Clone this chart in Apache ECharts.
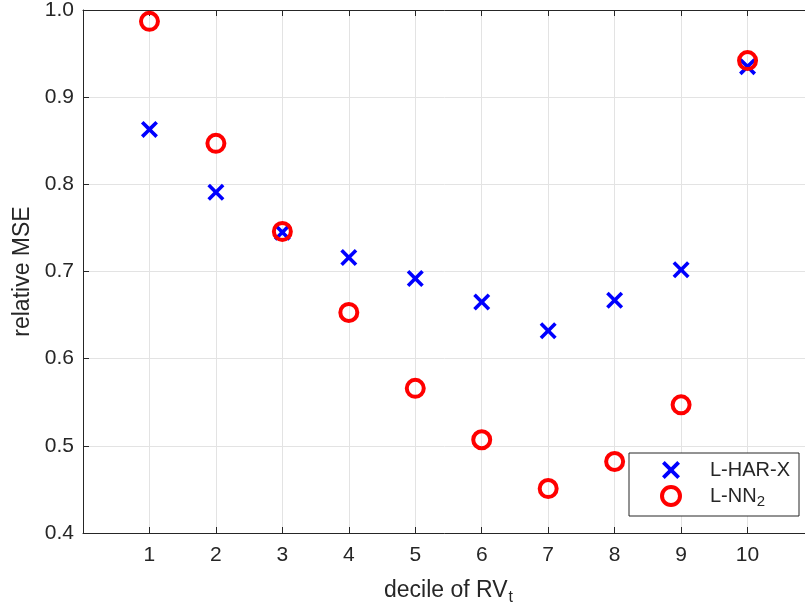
<!DOCTYPE html>
<html>
<head>
<meta charset="utf-8">
<script src="https://cdn.jsdelivr.net/npm/echarts@6/dist/echarts.min.js"></script>
<style>
  html, body { margin: 0; padding: 0; background: #fff; }
  #chart { width: 805px; height: 605px; }
</style>
</head>
<body>
<div id="chart"></div>
<script>
// decile numbers on the x axis
const deciles = [1, 2, 3, 4, 5, 6, 7, 8, 9, 10];
// relative MSE per decile
const harX = [0.863, 0.791, 0.745, 0.716, 0.692, 0.665, 0.632, 0.667, 0.702, 0.935];
const nn2 = [0.987, 0.847, 0.746, 0.653, 0.566, 0.507, 0.451, 0.482, 0.547, 0.942];
const seriesNames = ['L-HAR-X', 'L-NN2'];

const font = "'Liberation Sans', Arial, Helvetica, sans-serif";
const ink = '#262626';
const gridColor = '#e3e3e3';

// filled cross so it keeps a fixed stroke look at any size
const crossPath = 'path://M0,3L3,0L10,7L17,0L20,3L13,10L20,17L17,20L10,13L3,20L0,17L7,10Z';

const chart = echarts.init(document.getElementById('chart'));

chart.setOption({
  animation: false,
  textStyle: { fontFamily: font },
  grid: { left: 83, top: 10, right: -9, bottom: 72, containLabel: false, outerBoundsMode: 'none' },
  xAxis: [{
    type: 'value',
    min: 0, max: 11, interval: 1,
    position: 'bottom',
    name: '{a|decile of RV}{b|t}',
    nameLocation: 'middle',
    nameGap: 43,
    nameTextStyle: {
      rich: {
        a: { fontSize: 23, color: ink, fontFamily: font },
        b: { fontSize: 16, color: ink, fontFamily: font, padding: [14, 0, 0, 1] }
      }
    },
    axisLine: { onZero: false, lineStyle: { color: ink, width: 1 } },
    axisTick: { inside: true, length: 6, lineStyle: { color: ink } },
    axisLabel: {
      color: ink, fontSize: 21, margin: 12,
      formatter: function (v) { return deciles.indexOf(v) >= 0 ? String(v) : ''; }
    },
    splitLine: { show: true, lineStyle: { color: gridColor, width: 1 } }
  }, {
    type: 'value',
    min: 0, max: 11, interval: 1,
    position: 'top',
    axisLine: { onZero: false, lineStyle: { color: ink, width: 1 } },
    axisTick: { inside: true, length: 6, lineStyle: { color: ink } },
    axisLabel: { show: false },
    splitLine: { show: false }
  }],
  yAxis: {
    type: 'value',
    min: 0.4, max: 1.0, interval: 0.1,
    name: 'relative MSE',
    nameLocation: 'middle',
    nameGap: 49,
    nameTextStyle: { fontSize: 23, color: ink },
    axisLine: { show: true, onZero: false, lineStyle: { color: ink, width: 1 } },
    axisTick: { show: true, inside: true, length: 6, lineStyle: { color: ink } },
    axisLabel: {
      color: ink, fontSize: 21, margin: 9,
      formatter: function (v) { return v.toFixed(1); }
    },
    splitLine: { show: true, lineStyle: { color: gridColor, width: 1 } }
  },
  legend: {
    orient: 'vertical',
    left: 629,
    top: 453,
    data: [
      { name: seriesNames[0] },
      { name: seriesNames[1], itemStyle: { borderWidth: 4, borderColor: '#ff0000', color: 'rgba(255,255,255,0)' } }
    ],
    backgroundColor: '#fff',
    borderColor: ink,
    borderWidth: 1,
    borderRadius: 0,
    padding: [5, 9, 7, 31],
    itemWidth: 18,
    itemHeight: 18,
    itemGap: 2,
    formatter: function (name) {
      return name === 'L-NN2' ? 'L-NN{sub|2}' : name;
    },
    textStyle: {
      fontSize: 20, color: ink, padding: [0, 0, 0, 25], lineHeight: 24,
      rich: {
        sub: { fontSize: 15, color: ink, padding: [11, 0, 0, 0] }
      }
    }
  },
  series: [{
    name: seriesNames[0],
    type: 'scatter',
    symbol: crossPath,
    symbolKeepAspect: true,
    symbolSize: 17,
    itemStyle: { color: '#0000ff', opacity: 1 },
    data: deciles.map(function (d, i) { return [d, harX[i]]; })
  }, {
    name: seriesNames[1],
    type: 'scatter',
    symbol: 'circle',
    symbolSize: 17,
    itemStyle: { color: 'rgba(255,255,255,0)', borderColor: '#ff0000', borderWidth: 4, opacity: 1 },
    data: deciles.map(function (d, i) { return [d, nn2[i]]; })
  }]
});
</script>
</body>
</html>
